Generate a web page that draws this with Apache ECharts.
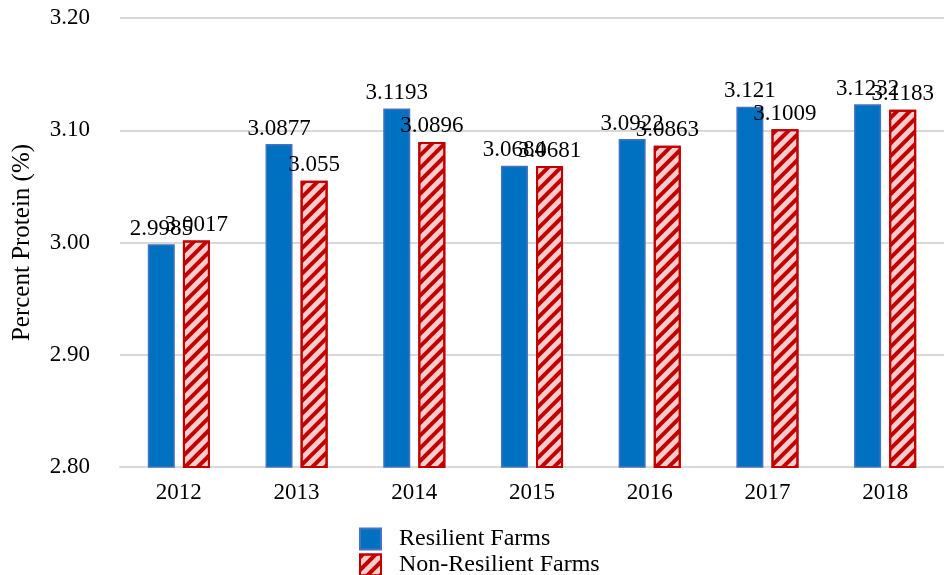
<!DOCTYPE html>
<html>
<head>
<meta charset="utf-8">
<script src="https://cdn.jsdelivr.net/npm/echarts@6/dist/echarts.min.js"></script>
<style>
  html, body { margin: 0; padding: 0; background: #fff; }
  #chart { width: 944px; height: 575px; }
</style>
</head>
<body>
<div id="chart"></div>
<script>
// Milk protein percentage by year for two farm groups
const years = ['2012', '2013', '2014', '2015', '2016', '2017', '2018'];
const resilientFarms = [2.9985, 3.0877, 3.1193, 3.0684, 3.0922, 3.121, 3.1232];
const nonResilientFarms = [3.0017, 3.055, 3.0896, 3.0681, 3.0863, 3.1009, 3.1183];
const seriesNames = ['Resilient Farms', 'Non-Resilient Farms'];
const yTicks = { min: 2.8, max: 3.2, step: 0.1 };

const serif = '"Liberation Serif", "Times New Roman", serif';

const chart = echarts.init(document.getElementById('chart'), null, { renderer: 'canvas' });

const labelStyle = {
  show: true,
  position: 'top',
  distance: 4,
  color: '#000',
  fontFamily: serif,
  fontSize: 23
};

// one legend block per entry, stacked vertically under the plot
function legendEntry(name, top) {
  return {
    data: [name],
    left: 359,
    top: top,
    padding: 0,
    itemWidth: 21,
    itemHeight: 21,
    icon: 'rect',
    textStyle: {
      fontFamily: serif, fontSize: 24, lineHeight: 21, color: '#000',
      padding: [0, 0, 0, 13]
    }
  };
}

chart.setOption({
  animation: false,
  backgroundColor: '#fff',
  textStyle: { fontFamily: serif },
  grid: { left: 120, top: 18, width: 830, height: 449 },
  legend: [legendEntry(seriesNames[0], 527), legendEntry(seriesNames[1], 553)],
  xAxis: {
    type: 'category',
    data: years,
    axisLine: { lineStyle: { color: '#d9d9d9', width: 2 } },
    axisTick: { show: false },
    axisLabel: { color: '#000', fontFamily: serif, fontSize: 23, margin: 14 }
  },
  yAxis: {
    type: 'value',
    min: yTicks.min,
    max: yTicks.max,
    interval: yTicks.step,
    name: 'Percent Protein (%)',
    nameLocation: 'middle',
    nameGap: 85,
    nameTextStyle: { color: '#000', fontFamily: serif, fontSize: 25 },
    axisLine: { show: false },
    axisTick: { show: false },
    axisLabel: {
      color: '#000', fontFamily: serif, fontSize: 23, margin: 30,
      formatter: v => v.toFixed(2)
    },
    splitLine: { lineStyle: { color: '#d9d9d9', width: 2 } }
  },
  series: [
    {
      name: seriesNames[0],
      type: 'bar',
      data: resilientFarms,
      barWidth: 27,
      barGap: '30%',
      itemStyle: { color: '#0070C0', borderColor: '#4472C4', borderWidth: 1.5 },
      label: Object.assign({}, labelStyle)
    },
    {
      name: seriesNames[1],
      type: 'bar',
      data: nonResilientFarms,
      barWidth: 27,
      itemStyle: {
        color: '#FFCCCC',
        borderColor: '#C00000',
        borderWidth: 2,
        decal: {
          symbol: 'rect',
          color: '#C00000',
          dashArrayX: [1, 0],
          dashArrayY: [4, 5],
          rotation: -Math.PI / 4
        }
      },
      label: Object.assign({}, labelStyle)
    }
  ]
});
</script>
</body>
</html>
